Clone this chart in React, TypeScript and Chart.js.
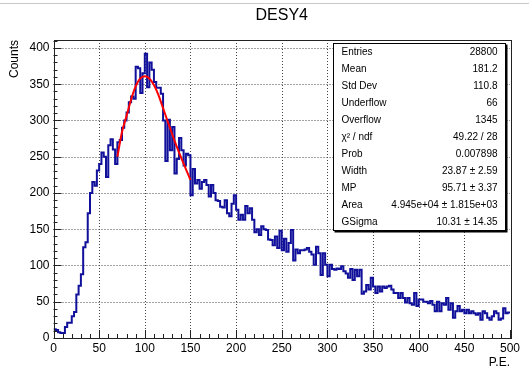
import React, { useEffect, useRef } from 'react';
import { Chart, registerables } from 'chart.js';
Chart.register(...registerables);

const chartTitle = 'DESY4';
const xAxisTitle = 'P.E.';
const yAxisTitle = 'Counts';

const binLow = 0;
const binWidth = 2.5;
const counts = [
  12, 11, 8, 7, 7, 15, 21, 21, 30, 36,
  60, 72, 88, 125, 132, 172, 200, 215, 210, 231,
  240, 256, 250, 222, 266, 274, 260, 240, 270, 273,
  290, 300, 311, 325, 333, 330, 374, 372, 338, 365,
  392, 346, 380, 370, 353, 345, 345, 337, 300, 244,
  301, 259, 291, 227, 247, 276, 259, 238, 254, 252,
  197, 233, 213, 218, 206, 215, 218, 211, 195, 211,
  200, 190, 189, 181, 180, 190, 172, 168, 185, 197,
  177, 163, 170, 163, 182, 172, 179, 163, 146, 150,
  142, 154, 150, 149, 136, 135, 128, 140, 124, 148,
  121, 137, 119, 131, 149, 107, 122, 117, 121, 121,
  122, 124, 119, 115, 101, 126, 117, 87, 117, 101,
  85, 101, 95, 94, 96, 95, 99, 92, 89, 83,
  95, 80, 94, 85, 94, 61, 64, 73, 67, 83,
  71, 62, 71, 64, 71, 69, 71, 72, 67, 62,
  62, 55, 62, 55, 49, 55, 48, 46, 62, 44,
  53, 53, 50, 50, 48, 51, 46, 37, 50, 37,
  48, 46, 55, 39, 48, 28, 37, 44, 37, 39,
  34, 39, 34, 37, 34, 32, 34, 25, 37, 34,
  28, 25, 30, 37, 34, 25, 27, 41, 34, 35,
];

const fitX = [70, 75, 80, 85, 90, 95, 100, 105, 110, 115, 120, 125, 130, 135, 140, 145, 150];
const fitY = [250, 284, 306, 329, 347, 358, 361, 358, 349, 335, 317, 299, 281, 264, 248, 233, 218];

const xMin = 0;
const xMax = 500;
const yMin = 0;
const yMax = 411;
const xMajorTicks = [0, 50, 100, 150, 200, 250, 300, 350, 400, 450, 500];
const yMajorTicks = [0, 50, 100, 150, 200, 250, 300, 350, 400];
const xMinorStep = 10;
const yMinorStep = 10;

const statsLabels = ['Entries', 'Mean', 'Std Dev', 'Underflow', 'Overflow', 'χ² / ndf', 'Prob', 'Width', 'MP', 'Area', 'GSigma'];
const statsValues = ['28800', '181.2', '110.8', '66', '1345', '49.22 / 28', '0.007898', '23.87 ± 2.59', '95.71 ± 3.37', '4.945e+04 ± 1.815e+03', '10.31 ± 14.35'];

const FONT = '"Liberation Sans", Arial, Helvetica, sans-serif';

const rootPlugin = {
  id: 'rootStyle',
  beforeDatasetsDraw(chart: any) {
    const { ctx, chartArea: a, scales } = chart;
    const xs = scales.x, ys = scales.y;
    ctx.save();
    ctx.strokeStyle = '#444';
    ctx.lineWidth = 1;
    ctx.setLineDash([1, 2]);
    for (const v of xMajorTicks) {
      if (v <= xMin || v >= xMax) continue;
      const px = Math.round(xs.getPixelForValue(v)) + 0.5;
      ctx.beginPath(); ctx.moveTo(px, a.top); ctx.lineTo(px, a.bottom); ctx.stroke();
    }
    for (const v of yMajorTicks) {
      if (v <= yMin || v >= yMax) continue;
      const py = Math.round(ys.getPixelForValue(v)) + 0.5;
      ctx.beginPath(); ctx.moveTo(a.left, py); ctx.lineTo(a.right, py); ctx.stroke();
    }
    ctx.restore();
  },
  afterDatasetsDraw(chart: any) {
    const { ctx, chartArea: a, scales, width } = chart;
    const xs = scales.x, ys = scales.y;
    ctx.save();
    ctx.strokeStyle = '#c8c8c8';
    ctx.lineWidth = 1;
    ctx.beginPath(); ctx.moveTo(0, 3.5); ctx.lineTo(width, 3.5); ctx.stroke();

    ctx.strokeStyle = '#222';
    ctx.lineWidth = 1;
    ctx.strokeRect(Math.round(a.left) + 0.5, Math.round(a.top) + 0.5, Math.round(a.right - a.left), Math.round(a.bottom - a.top));

    ctx.beginPath();
    for (let v = xMin; v <= xMax; v += xMinorStep) {
      const px = Math.round(xs.getPixelForValue(v)) + 0.5;
      const len = v % 50 === 0 ? 8 : 4;
      ctx.moveTo(px, a.bottom); ctx.lineTo(px, a.bottom - len);
    }
    for (let v = yMin; v <= yMax; v += yMinorStep) {
      const py = Math.round(ys.getPixelForValue(v)) + 0.5;
      const len = v % 50 === 0 ? 8 : 4;
      ctx.moveTo(a.left, py); ctx.lineTo(a.left + len, py);
    }
    ctx.stroke();

    ctx.fillStyle = '#000';
    ctx.font = `16px ${FONT}`;
    ctx.textAlign = 'center';
    ctx.textBaseline = 'middle';
    ctx.fillText(chartTitle, (a.left + a.right) / 2, 16);

    ctx.font = `12px ${FONT}`;
    ctx.textAlign = 'right';
    ctx.fillText(xAxisTitle, a.right, 363);

    ctx.save();
    ctx.translate(15, a.top);
    ctx.rotate(-Math.PI / 2);
    ctx.textAlign = 'right';
    ctx.textBaseline = 'middle';
    ctx.fillText(yAxisTitle, 0, 0);
    ctx.restore();

    const bx = 333.5, by = 43.5, bw = 172, bh = 187;
    ctx.fillStyle = '#000';
    ctx.fillRect(bx + 1, by + 1, bw + 1, bh + 1);
    ctx.fillStyle = '#fff';
    ctx.fillRect(bx, by, bw, bh);
    ctx.strokeStyle = '#000';
    ctx.lineWidth = 1;
    ctx.strokeRect(bx, by, bw, bh);
    ctx.fillStyle = '#000';
    ctx.font = `10px ${FONT}`;
    ctx.textBaseline = 'middle';
    const rowH = bh / statsLabels.length;
    statsLabels.forEach((lab, i) => {
      const cy = by + rowH * (i + 0.5);
      ctx.textAlign = 'left';
      ctx.fillText(lab, bx + 8, cy);
      ctx.textAlign = 'right';
      ctx.fillText(statsValues[i], bx + bw - 8, cy);
    });
    ctx.restore();
  },
};

export default function App() {
  const ref = useRef<HTMLCanvasElement | null>(null);
  useEffect(() => {
    document.body.style.margin = '0';
    const histData = counts.map((v, i) => ({ x: binLow + i * binWidth, y: v }));
    histData.push({ x: binLow + counts.length * binWidth, y: counts[counts.length - 1] });
    const fitData = fitX.map((x, i) => ({ x, y: fitY[i] }));
    const chart = new Chart(ref.current as HTMLCanvasElement, {
      type: 'line',
      data: {
        datasets: [
          {
            data: histData,
            borderColor: '#10109a',
            borderWidth: 2,
            stepped: 'before',
            pointRadius: 0,
            fill: false,
            order: 2,
          },
          {
            data: fitData,
            borderColor: '#ff0000',
            borderWidth: 2,
            pointRadius: 0,
            cubicInterpolationMode: 'monotone',
            fill: false,
            order: 1,
          },
        ],
      },
      options: {
        animation: false,
        responsive: false,
        maintainAspectRatio: false,
        devicePixelRatio: 1,
        layout: { padding: { left: 0, right: 19, top: 40, bottom: 0 } },
        plugins: { legend: { display: false }, title: { display: false }, tooltip: { enabled: false } },
        scales: {
          x: {
            type: 'linear',
            min: xMin,
            max: xMax,
            grid: { display: false, drawTicks: false },
            border: { display: false },
            ticks: { color: '#000', font: { family: FONT, size: 12 }, padding: 3, maxRotation: 0, autoSkip: false },
            afterBuildTicks: (s: any) => { s.ticks = xMajorTicks.map((v) => ({ value: v })); },
            afterFit: (s: any) => { s.height = 36; },
          },
          y: {
            type: 'linear',
            min: yMin,
            max: yMax,
            grid: { display: false, drawTicks: false },
            border: { display: false },
            ticks: { color: '#000', font: { family: FONT, size: 12 }, padding: 4, autoSkip: false },
            afterBuildTicks: (s: any) => { s.ticks = yMajorTicks.map((v) => ({ value: v })); },
            afterFit: (s: any) => { s.width = 53.5; },
          },
        },
      },
      plugins: [rootPlugin],
    } as any);
    return () => chart.destroy();
  }, []);
  return <canvas ref={ref} width={529} height={374} style={{ display: 'block' }} />;
}
